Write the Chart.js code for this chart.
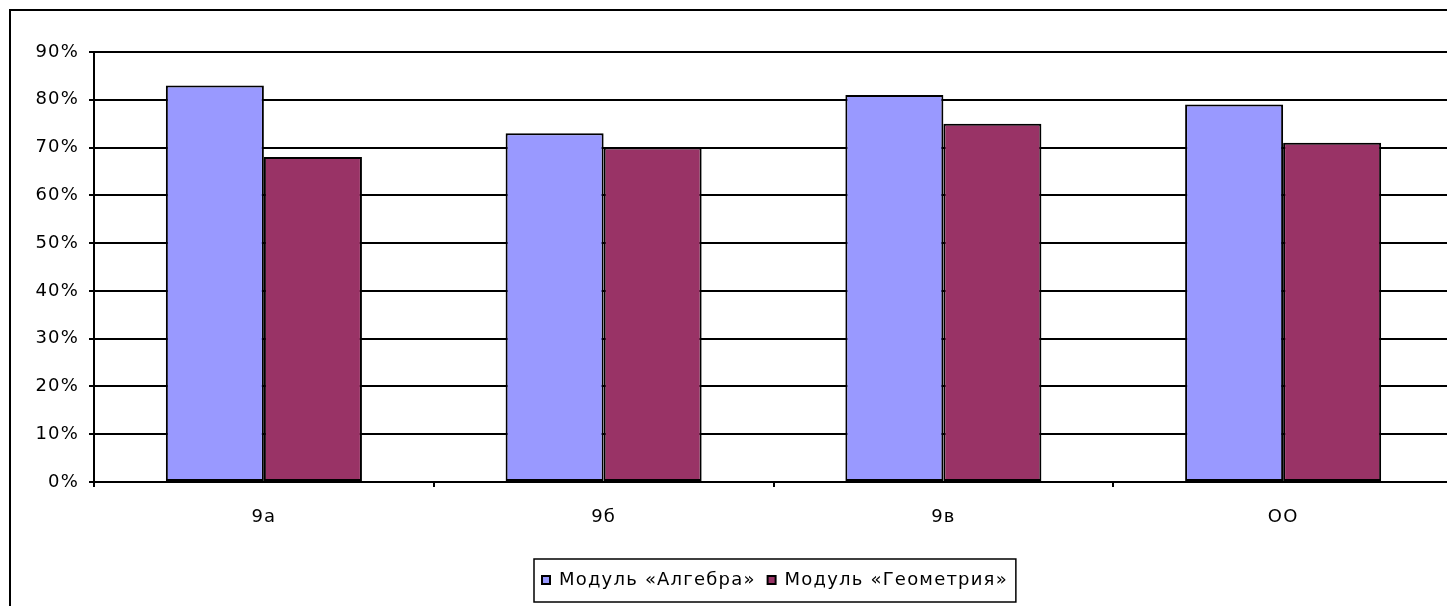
<!DOCTYPE html>
<html>
<head>
<meta charset="utf-8">
<script src="https://cdn.jsdelivr.net/npm/chart.js@4"></script>
<style>
  html, body { margin: 0; padding: 0; background: #fff; overflow: hidden; }
  #wrap { width: 1460px; height: 606px; }
</style>
</head>
<body>
<div id="wrap"><canvas id="chart" width="1460" height="606"></canvas></div>
<script>
const categories = ['9а', '9б', '9в', 'ОО'];
const algebra = [83, 73, 81, 79];
const geometry = [68, 70, 75, 71];
const seriesNames = ['Модуль «Алгебра»', 'Модуль «Геометрия»'];
const yTicks = [0, 10, 20, 30, 40, 50, 60, 70, 80, 90];

const FONT = '"DejaVu Sans", "Liberation Sans", Arial, sans-serif';

// the original picture is stretched sideways, so text gets a little extra spacing
function widenText(chart) {
    if ('letterSpacing' in chart.ctx) chart.ctx.letterSpacing = '1.2px';
}

// frame around the whole chart + box around legend
const framePlugin = {
    id: 'frame',
    beforeLayout(chart) { widenText(chart); },
    afterLayout(chart) {
        // move legend so it starts where the original one does
        const lg = chart.legend;
        if (!lg || !lg.lineWidths) return;
        const pad = lg.options.labels.padding;
        const start = (lg.left + pad + lg.right - lg.lineWidths[0]) / 2;
        const delta = 542 - start;
        lg.left += delta;
        lg.right += delta;
    },
    beforeDraw(chart) { widenText(chart); },
    afterDraw(chart) {
        const ctx = chart.ctx;
        ctx.save();
        ctx.strokeStyle = '#000';
        ctx.lineWidth = 2;
        ctx.strokeRect(10, 10, 1500, 700);
        const boxes = chart.legend.legendHitBoxes;
        if (boxes && boxes.length) {
            const first = boxes[0];
            const last = boxes[boxes.length - 1];
            const x1 = first.left - 8;
            const x2 = last.left + last.width + 8;
            ctx.lineWidth = 1.5;
            ctx.strokeRect(x1, 559, x2 - x1, 43);
        }
        ctx.restore();
    }
};

document.addEventListener('DOMContentLoaded', function() {
    const ctx = document.getElementById('chart');
    const config = {
        type: 'bar',
        data: {
            labels: categories,
            datasets: [
                {
                    label: seriesNames[0],
                    data: algebra,
                    backgroundColor: '#9999FF',
                    borderColor: '#000',
                    borderWidth: 2,
                    borderSkipped: false,
                    categoryPercentage: 0.577,
                    barPercentage: 1
                },
                {
                    label: seriesNames[1],
                    data: geometry,
                    backgroundColor: '#993366',
                    borderColor: '#000',
                    borderWidth: 2,
                    borderSkipped: false,
                    categoryPercentage: 0.577,
                    barPercentage: 1
                }
            ]
        },
        options: {
            responsive: false,
            animation: false,
            devicePixelRatio: 1,
            layout: {
                padding: { left: 10, top: 52, right: 7, bottom: 7 }
            },
            scales: {
                y: {
                    min: 0,
                    max: 90,
                    afterFit(scale) { scale.width = 84; },
                    afterBuildTicks(scale) { scale.ticks = yTicks.map(v => ({ value: v })); },
                    ticks: {
                        padding: 10,
                        color: '#000',
                        font: { family: FONT, size: 18 },
                        callback: v => v + '%'
                    },
                    grid: {
                        color: '#000',
                        lineWidth: 2,
                        drawTicks: true,
                        tickLength: 5
                    },
                    border: { display: true, color: '#000', width: 2 }
                },
                x: {
                    afterFit(scale) { scale.height = 77; },
                    ticks: {
                        padding: 20,
                        color: '#000',
                        font: { family: FONT, size: 18 }
                    },
                    grid: {
                        color: '#000',
                        lineWidth: 2,
                        drawOnChartArea: false,
                        drawTicks: true,
                        tickLength: 5,
                        offset: true
                    },
                    border: { display: true, color: '#000', width: 2 }
                }
            },
            plugins: {
                legend: {
                    position: 'bottom',
                    labels: {
                        color: '#000',
                        font: { family: FONT, size: 18 },
                        boxWidth: 8,
                        boxHeight: 8,
                        padding: 12
                    }
                },
                tooltip: { enabled: false }
            }
        },
        plugins: [framePlugin]
    };

    try {
        new Chart(ctx.getContext('2d'), config);
    } catch (error) {
        console.error('Chart initialization failed:', error);
    }
});
</script>
</body>
</html>
